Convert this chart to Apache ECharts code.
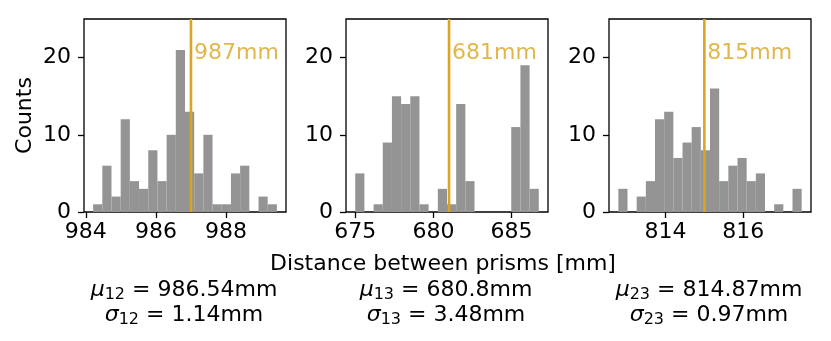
<!DOCTYPE html>
<html>
<head>
<meta charset="utf-8">
<script src="https://cdn.jsdelivr.net/npm/echarts@6/dist/echarts.min.js"></script>
<style>
  html, body { margin: 0; padding: 0; background: #fff; }
  #main { width: 831px; height: 341px; }
</style>
</head>
<body>
<div id="main"></div>
<script>
// histogram counts, 20 bins per prism pair
const counts12 = [1, 6, 2, 12, 4, 3, 8, 4, 10, 21, 13, 5, 10, 1, 1, 5, 6, 0, 2, 1];
const counts13 = [5, 0, 1, 9, 15, 14, 15, 1, 0, 3, 1, 14, 4, 0, 0, 0, 0, 11, 19, 3];
const counts23 = [3, 0, 2, 4, 12, 13, 7, 9, 11, 8, 16, 4, 6, 7, 4, 5, 0, 1, 0, 3];

// bin range (first edge, last edge)
const binRange12 = [984.21, 989.45];
const binRange13 = [675.0, 686.74];
const binRange23 = [812.79, 817.50];

const nominal = [987, 681, 815];
const pairs = ["12", "13", "23"];
const means = ["986.54", "680.8", "814.87"];
const sigmas = ["1.14", "3.48", "0.97"];

const xTicks = [[984, 986, 988], [675, 680, 685], [814, 816]];
const yTicks = [0, 10, 20];

var chart = echarts.init(document.getElementById("main"));
const FONT = "DejaVu Sans";
const GOLD = "#DAA520";
const FS = 22;

const allCounts = [counts12, counts13, counts23];
const allRanges = [binRange12, binRange13, binRange23];
const xLimits = [[983.95, 989.71], [674.41, 687.33], [812.55, 817.74]];
const gridLeft = [84, 346, 609];

function binData(counts, range) {
  const w = (range[1] - range[0]) / counts.length;
  return counts.map((c, i) => [range[0] + i * w, range[0] + (i + 1) * w, c]);
}

const grids = [], xAxes = [], yAxes = [], series = [];

for (let k = 0; k < 3; k++) {
  grids.push({
    left: gridLeft[k], top: 19, width: 202, height: 193,
    show: true, borderColor: "#000", borderWidth: 1.3, backgroundColor: "transparent"
  });
  xAxes.push({
    type: "value", gridIndex: k, min: xLimits[k][0], max: xLimits[k][1],
    splitLine: { show: false },
    axisLine: { show: false },
    axisTick: { show: true, length: 6, lineStyle: { color: "#000", width: 1.3 }, customValues: xTicks[k] },
    axisLabel: { color: "#000", fontSize: FS, fontFamily: FONT, margin: 9, customValues: xTicks[k] }
  });
  yAxes.push({
    type: "value", gridIndex: k, min: 0, max: 25,
    name: k === 0 ? "Counts" : "",
    nameLocation: "middle", nameGap: 48,
    nameTextStyle: { color: "#000", fontSize: FS, fontFamily: FONT },
    splitLine: { show: false },
    axisLine: { show: false },
    axisTick: { show: true, length: 6, lineStyle: { color: "#000", width: 1.3 }, customValues: yTicks },
    axisLabel: { color: "#000", fontSize: FS, fontFamily: FONT, margin: 13, customValues: yTicks }
  });
  series.push({
    type: "custom", xAxisIndex: k, yAxisIndex: k,
    data: binData(allCounts[k], allRanges[k]),
    encode: { x: [0, 1], y: 2 },
    renderItem: function (params, api) {
      const p0 = api.coord([api.value(0), api.value(2)]);
      const p1 = api.coord([api.value(1), 0]);
      return {
        type: "rect",
        shape: { x: p0[0], y: p0[1], width: p1[0] - p0[0], height: p1[1] - p0[1] },
        style: { fill: "#949494" }
      };
    }
  });
  series.push({
    type: "line", xAxisIndex: k, yAxisIndex: k,
    data: [[nominal[k], 0], [nominal[k], 25]],
    symbol: "none", silent: true,
    lineStyle: { color: GOLD, width: 2.6 }
  });
  series.push({
    type: "scatter", xAxisIndex: k, yAxisIndex: k,
    data: [[nominal[k], 20.6]],
    symbolSize: 0, silent: true,
    label: {
      show: true, position: "right", distance: 3,
      formatter: nominal[k] + "mm",
      color: GOLD, fontSize: FS, fontFamily: FONT
    }
  });
}

const rich = {
  i: { fontStyle: "italic", fontSize: FS, fontFamily: FONT, color: "#000" },
  s: { fontSize: 16, fontFamily: FONT, color: "#000", padding: [9, 0, 0, 0] },
  t: { fontSize: FS, fontFamily: FONT, color: "#000" }
};

const graphics = [{
  type: "text", x: 443, y: 264,
  style: {
    text: "Distance between prisms [mm]",
    textAlign: "center", textVerticalAlign: "middle",
    font: FS + "px 'DejaVu Sans'", fill: "#000"
  }
}];
for (let k = 0; k < 3; k++) {
  const cx = gridLeft[k] + 100;
  graphics.push({
    type: "text", x: cx, y: 290,
    style: {
      text: "{i|μ}{s|" + pairs[k] + "}{t| = " + means[k] + "mm}",
      rich: rich, textAlign: "center", textVerticalAlign: "middle"
    }
  });
  graphics.push({
    type: "text", x: cx, y: 315,
    style: {
      text: "{i|σ}{s|" + pairs[k] + "}{t| = " + sigmas[k] + "mm}",
      rich: rich, textAlign: "center", textVerticalAlign: "middle"
    }
  });
}

var option = {
  backgroundColor: "#fff",
  animation: false,
  grid: grids,
  xAxis: xAxes,
  yAxis: yAxes,
  series: series,
  graphic: graphics
};

chart.setOption(option);
</script>
</body>
</html>
